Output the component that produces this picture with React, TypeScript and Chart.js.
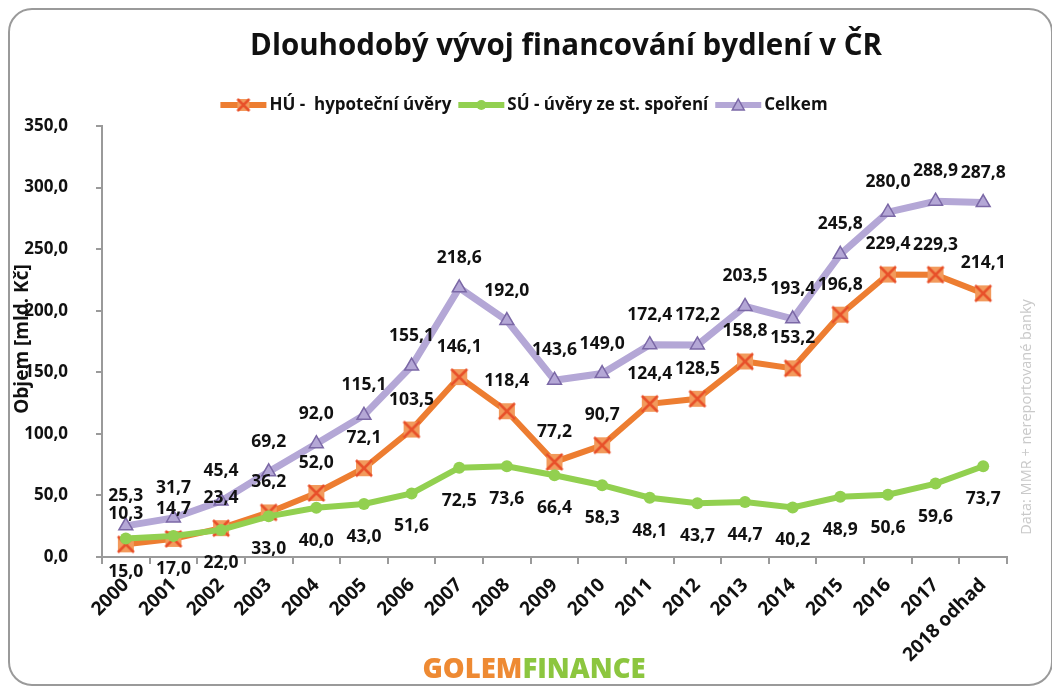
import React, { useEffect, useRef } from "react";
import { Chart, registerables } from "chart.js";

Chart.register(...registerables);

const categories = [
  "2000", "2001", "2002", "2003", "2004", "2005", "2006", "2007", "2008", "2009",
  "2010", "2011", "2012", "2013", "2014", "2015", "2016", "2017", "2018 odhad",
];
const huValues = [10.3, 14.7, 23.4, 36.2, 52.0, 72.1, 103.5, 146.1, 118.4, 77.2, 90.7, 124.4, 128.5, 158.8, 153.2, 196.8, 229.4, 229.3, 214.1];
const suValues = [15.0, 17.0, 22.0, 33.0, 40.0, 43.0, 51.6, 72.5, 73.6, 66.4, 58.3, 48.1, 43.7, 44.7, 40.2, 48.9, 50.6, 59.6, 73.7];
const celkemValues = [25.3, 31.7, 45.4, 69.2, 92.0, 115.1, 155.1, 218.6, 192.0, 143.6, 149.0, 172.4, 172.2, 203.5, 193.4, 245.8, 280.0, 288.9, 287.8];
const seriesNames = ["HÚ -  hypoteční úvěry", "SÚ - úvěry ze st. spoření", "Celkem"];
const yMin = 0;
const yMax = 350;
const yStep = 50;

const titleText = "Dlouhodobý vývoj financování bydlení v ČR";
const yTitle = "Objem [mld. Kč]";
const sourceText = "Data: MMR + nereportované banky";
const logoParts = ["GOLEM", "FINANCE"];

const FONT = "'Open Sans', 'Liberation Sans', sans-serif";
const ORANGE = "#ED7D31";
const GREEN = "#92D050";
const PURPLE = "#B4A7D6";
const PURPLE_DARK = "#7B68A6";

const fmt = (v: number) => v.toFixed(1).replace(".", ",");

function makeXMarker(size: number) {
  const c = document.createElement("canvas");
  c.width = size;
  c.height = size;
  const g = c.getContext("2d")!;
  const p = 2;
  g.fillStyle = "#F29A5C";
  g.fillRect(p, p, size - 2 * p, size - 2 * p);
  g.strokeStyle = "#E8502A";
  g.lineWidth = 2.5;
  g.beginPath();
  g.moveTo(p, p);
  g.lineTo(size - p, size - p);
  g.moveTo(size - p, p);
  g.lineTo(p, size - p);
  g.stroke();
  return c;
}

export default function App() {
  const ref = useRef<HTMLCanvasElement | null>(null);

  useEffect(() => {
    if (!ref.current) return;
    const xMarker = makeXMarker(20);
    const xMarkerSmall = makeXMarker(16);

    const overlay = {
      id: "overlay",
      afterDatasetsDraw(chart: any) {
        const ctx = chart.ctx;
        ctx.save();
        ctx.font = `bold 17.5px ${FONT}`;
        ctx.fillStyle = "#111";
        ctx.textAlign = "center";
        ctx.textBaseline = "middle";
        const offsets = [-30, 33, -30];
        chart.data.datasets.forEach((ds: any, di: number) => {
          const meta = chart.getDatasetMeta(di);
          meta.data.forEach((pt: any, i: number) => {
            ctx.fillText(fmt(ds.data[i]), pt.x, pt.y + offsets[di]);
          });
        });
        ctx.restore();
      },
      afterDraw(chart: any) {
        const ctx = chart.ctx;
        ctx.save();
        // title
        ctx.fillStyle = "#111";
        ctx.font = `bold 29.5px ${FONT}`;
        ctx.textAlign = "center";
        ctx.textBaseline = "middle";
        ctx.fillText(titleText, 556, 37);

        // legend
        ctx.font = `bold 17px ${FONT}`;
        ctx.textBaseline = "middle";
        ctx.textAlign = "left";
        const lineLen = 46;
        const gapAfterLine = 3;
        const gapItem = 7;
        const colors = [ORANGE, GREEN, PURPLE];
        let total = 0;
        seriesNames.forEach((n) => {
          total += lineLen + gapAfterLine + ctx.measureText(n).width + gapItem;
        });
        total -= gapItem;
        let x = 514 - total / 2;
        const ly = 95;
        seriesNames.forEach((n, i) => {
          ctx.strokeStyle = colors[i];
          ctx.lineWidth = 6;
          ctx.beginPath();
          ctx.moveTo(x, ly);
          ctx.lineTo(x + lineLen, ly);
          ctx.stroke();
          const cx = x + lineLen / 2;
          if (i === 0) {
            ctx.drawImage(xMarkerSmall, cx - 8, ly - 8);
          } else if (i === 1) {
            ctx.fillStyle = GREEN;
            ctx.beginPath();
            ctx.arc(cx, ly, 5, 0, Math.PI * 2);
            ctx.fill();
          } else {
            ctx.fillStyle = PURPLE;
            ctx.strokeStyle = PURPLE_DARK;
            ctx.lineWidth = 1.5;
            ctx.beginPath();
            ctx.moveTo(cx, ly - 6);
            ctx.lineTo(cx + 6, ly + 5);
            ctx.lineTo(cx - 6, ly + 5);
            ctx.closePath();
            ctx.fill();
            ctx.stroke();
          }
          x += lineLen + gapAfterLine;
          ctx.fillStyle = "#111";
          ctx.fillText(n, x, ly);
          x += ctx.measureText(n).width + gapItem;
        });

        // y title
        ctx.save();
        ctx.translate(13, 329);
        ctx.rotate(-Math.PI / 2);
        ctx.font = `bold 19px ${FONT}`;
        ctx.textAlign = "center";
        ctx.textBaseline = "middle";
        ctx.fillStyle = "#111";
        ctx.fillText(yTitle, 0, 0);
        ctx.restore();

        // source text
        ctx.save();
        ctx.translate(1017, 407);
        ctx.rotate(-Math.PI / 2);
        ctx.font = `14.5px ${FONT}`;
        ctx.textAlign = "center";
        ctx.textBaseline = "middle";
        ctx.fillStyle = "#c9c9c9";
        ctx.fillText(sourceText, 0, 0);
        ctx.restore();

        // logo
        ctx.font = `800 27.5px ${FONT}`;
        ctx.textBaseline = "middle";
        ctx.textAlign = "left";
        const w1 = ctx.measureText(logoParts[0]).width;
        const w2 = ctx.measureText(logoParts[1]).width;
        const lx = 524 - (w1 + w2) / 2;
        ctx.fillStyle = "#EE8A33";
        ctx.fillText(logoParts[0], lx, 660);
        ctx.fillStyle = "#8CC63F";
        ctx.fillText(logoParts[1], lx + w1, 660);
        ctx.restore();
      },
    };

    const chart = new Chart(ref.current, {
      type: "line",
      data: {
        labels: categories,
        datasets: [
          {
            label: seriesNames[0],
            data: huValues,
            borderColor: ORANGE,
            backgroundColor: ORANGE,
            borderWidth: 6,
            pointStyle: xMarker as any,
            pointRadius: 10,
            order: 3,
          },
          {
            label: seriesNames[1],
            data: suValues,
            borderColor: GREEN,
            backgroundColor: GREEN,
            borderWidth: 6,
            pointStyle: "circle",
            pointRadius: 6,
            pointBorderWidth: 0,
            order: 2,
          },
          {
            label: seriesNames[2],
            data: celkemValues,
            borderColor: PURPLE,
            backgroundColor: PURPLE,
            borderWidth: 7,
            pointStyle: "triangle",
            pointRadius: 8,
            pointBackgroundColor: PURPLE,
            pointBorderColor: PURPLE_DARK,
            pointBorderWidth: 1.5,
            order: 1,
          },
        ],
      },
      options: {
        animation: false,
        responsive: true,
        maintainAspectRatio: false,
        layout: { padding: { top: 116, right: 44, left: 0, bottom: 0 } },
        plugins: {
          legend: { display: false },
          title: { display: false },
          tooltip: { enabled: false },
        },
        scales: {
          x: {
            offset: true,
            grid: {
              offset: true,
              drawOnChartArea: false,
              drawTicks: true,
              tickLength: 7,
              color: "#9a9a9a",
              lineWidth: 2,
            },
            border: { color: "#9a9a9a", width: 2 },
            ticks: {
              color: "#111",
              font: { family: FONT, size: 19, weight: "bold" },
              minRotation: 45,
              maxRotation: 45,
              padding: 10,
              autoSkip: false,
            },
            afterFit: (s: any) => {
              s.height = 127;
            },
          },
          y: {
            min: yMin,
            max: yMax,
            grid: {
              drawOnChartArea: false,
              drawTicks: true,
              tickLength: 6,
              color: "#9a9a9a",
              lineWidth: 2,
            },
            border: { color: "#9a9a9a", width: 2 },
            ticks: {
              stepSize: yStep,
              color: "#111",
              font: { family: FONT, size: 17, weight: "bold" },
              padding: 28,
              callback: (v: any) => fmt(Number(v)),
            },
            afterFit: (s: any) => {
              s.width = 92;
            },
          },
        },
      },
      plugins: [overlay],
    });
    return () => chart.destroy();
  }, []);

  return (
    <div
      style={{
        width: 1045,
        height: 678,
        boxSizing: "border-box",
        border: "2px solid #9a9a9a",
        borderRadius: 24,
        background: "#fff",
        overflow: "hidden",
      }}
    >
      <div style={{ position: "relative", width: 1041, height: 674 }}>
        <canvas ref={ref} />
      </div>
    </div>
  );
}
